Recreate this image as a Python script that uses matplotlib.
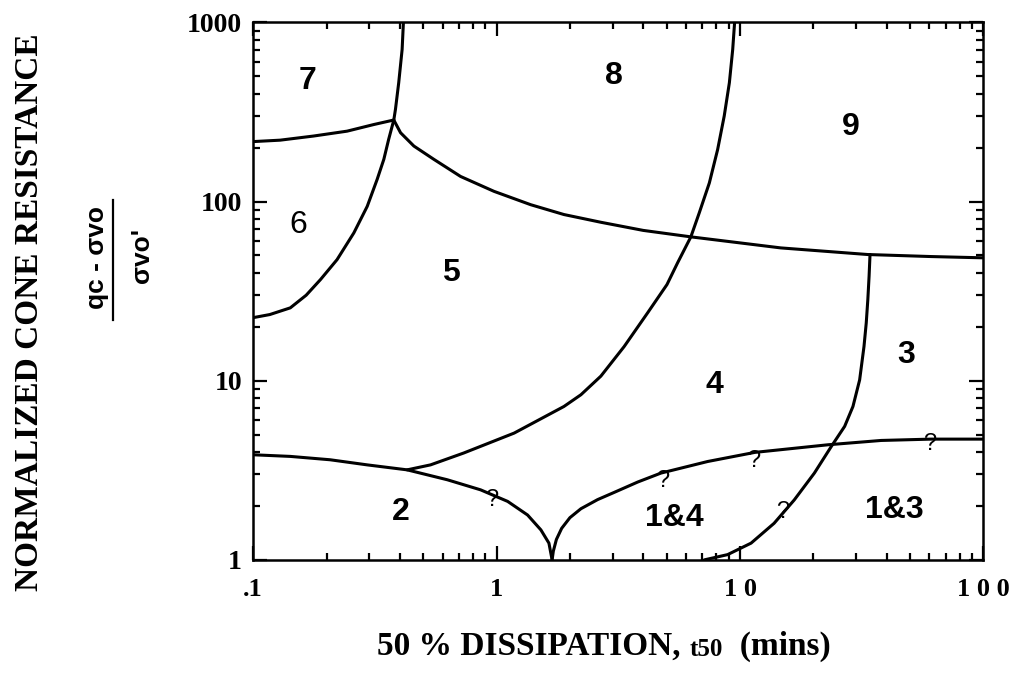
import numpy as np
import matplotlib
matplotlib.use("Agg")
import matplotlib.pyplot as plt
from matplotlib.lines import Line2D

# zone boundaries (x = t50 in mins, y = normalized cone resistance)
b76_x = [0.1, 0.102, 0.117, 0.142, 0.165, 0.189, 0.221, 0.259, 0.294, 0.323, 0.344, 0.360,
         0.378, 0.384, 0.396, 0.409, 0.414]
b76_y = [22.5, 22.6, 23.4, 25.5, 30, 36.7, 47.4, 66.8, 94, 133, 172, 222,
         285, 327, 460, 706, 1000]

b7_6_x = [0.1, 0.129, 0.177, 0.243, 0.313, 0.378]
b7_6_y = [216, 220, 232, 247, 269, 285]

b9_x = [0.378, 0.403, 0.457, 0.552, 0.711, 0.975, 1.38, 1.89, 2.68, 4.0, 6.28, 14.7,
        33.5, 61, 100]
b9_y = [285, 242, 204, 172, 138, 114, 96, 84.6, 76.6, 69, 63.5, 55.1,
        50.6, 49.3, 48.5]

b89_x = [0.429, 0.535, 0.733, 1.18, 1.89, 2.22, 2.68, 3.34, 4.17, 5.01, 5.54, 6.28, 6.80,
         7.48, 8.09, 8.61, 9.04, 9.33, 9.5]
b89_y = [3.18, 3.39, 3.95, 5.10, 7.18, 8.35, 10.6, 15.5, 23.9, 34.4, 45.5, 63.5, 86.5,
         127, 195, 300, 460, 706, 1000]

b2_x = [0.1, 0.142, 0.207, 0.294, 0.429, 0.627, 0.859, 1.11, 1.34, 1.52, 1.64, 1.69]
b2_y = [3.86, 3.78, 3.62, 3.39, 3.18, 2.80, 2.46, 2.12, 1.78, 1.47, 1.24, 1.0]

b14_x = [1.69, 1.71, 1.76, 1.85, 2.0, 2.22, 2.6, 3.04, 3.8, 4.73, 7.36, 11.5, 23.0,
         38.0, 61, 100]
b14_y = [1.0, 1.12, 1.3, 1.5, 1.72, 1.93, 2.17, 2.38, 2.72, 3.05, 3.54, 3.98, 4.39,
         4.64, 4.72, 4.72]

b3_x = [7.13, 8.89, 11.1, 13.8, 16.7, 20.2, 23.7, 26.9, 29.1, 31.0, 32.3, 33.0, 33.5,
        33.9, 34.2]
b3_y = [1.0, 1.07, 1.24, 1.60, 2.16, 3.05, 4.29, 5.56, 7.18, 10.1, 15.5, 21, 28.4,
        38.3, 50.6]

zone_names = ["7", "6", "5", "8", "9", "4", "3", "1&4", "1&3", "2"]
zone_x = [0.167, 0.153, 0.647, 3.03, 28.6, 7.82, 48.2, 5.35, 43, 0.403]
zone_y = [468, 74, 40, 499, 262, 9.5, 14, 1.72, 1.9, 1.85]
zone_bold = [True, False, True, True, True, True, True, True, True, True]

q_x = [0.95, 4.82, 11.4, 15, 60]
q_y = [2.15, 2.75, 3.55, 1.85, 4.45]

xtick_vals = [0.1, 1, 10, 100]
xtick_text = [".1", "1", "1 0", "1 0 0"]
ytick_vals = [1, 10, 100, 1000]
ytick_text = ["1", "10", "100", "1000"]

serif = "Liberation Serif"
sans = "Liberation Sans"

fig = plt.figure(figsize=(10.17, 6.77), dpi=100)
ax = fig.add_axes([0.249, 0.173, 0.718, 0.794])
ax.set_xscale("log")
ax.set_yscale("log")
ax.set_xlim(0.1, 100)
ax.set_ylim(1, 1000)

lw = 2.2
for xs, ys in [(b76_x, b76_y), (b7_6_x, b7_6_y), (b9_x, b9_y), (b89_x, b89_y),
               (b2_x, b2_y), (b14_x, b14_y), (b3_x, b3_y)]:
    ax.plot(xs, ys, color="black", lw=lw, solid_capstyle="round",
            solid_joinstyle="round")

for name, x, y, b in zip(zone_names, zone_x, zone_y, zone_bold):
    ax.text(x, y, name, ha="center", va="center", fontsize=23,
            family=sans, weight="bold" if b else "normal")

for x, y in zip(q_x, q_y):
    ax.text(x, y, "?", ha="center", va="center", fontsize=17, family=sans)

for s in ax.spines.values():
    s.set_linewidth(1.8)

ax.tick_params(which="both", direction="in", top=True, right=True, width=1.6)
ax.tick_params(which="major", length=10)
ax.tick_params(which="minor", length=5)
ax.tick_params(axis="x", which="major", pad=13)
ax.tick_params(axis="y", which="major", pad=8)
ax.set_xticks(xtick_vals)
ax.set_xticklabels(xtick_text, family=serif, weight="bold", fontsize=19)
ax.set_yticks(ytick_vals)
ax.set_yticklabels(ytick_text, family=serif, weight="bold", fontsize=20)

# x label: "t50" set smaller, as in the original
t1 = fig.text(0.371, 0.022, "50 % DISSIPATION, ", family=serif, weight="bold",
              fontsize=24, ha="left", va="bottom")
t2 = ax.annotate("t50", xy=(1, 0.05), xycoords=t1, family=serif, weight="bold",
                 fontsize=18, ha="left", va="bottom")
ax.annotate("  (mins)", xy=(1, -0.05), xycoords=t2, family=serif, weight="bold",
            fontsize=24, ha="left", va="bottom")

fig.text(0.029, 0.539, "NORMALIZED CONE RESISTANCE", rotation=90, family=serif,
         weight="bold", fontsize=24, ha="center", va="center")

# normalized resistance fraction
fig.text(0.095, 0.619, "qc - \u03c3vo", rotation=90, family=sans, weight="bold",
         fontsize=19, ha="center", va="center")
fig.add_artist(Line2D([0.111, 0.111], [0.527, 0.705], color="black", lw=1.6))
fig.text(0.140, 0.622, "\u03c3vo'", rotation=90, family=sans, weight="bold",
         fontsize=19, ha="center", va="center")

fig.savefig("out.png", dpi=100)
